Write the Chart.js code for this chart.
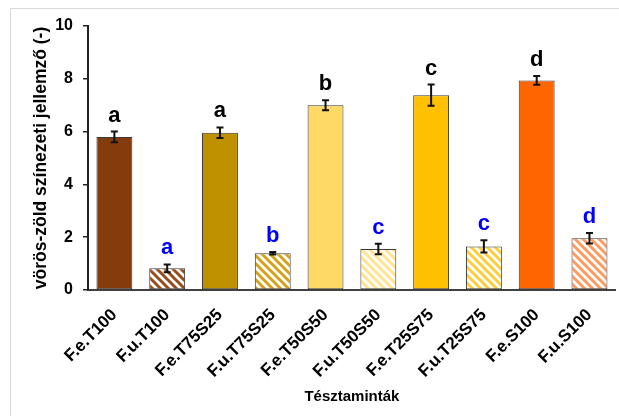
<!DOCTYPE html>
<html>
<head>
<meta charset="utf-8">
<script src="https://cdn.jsdelivr.net/npm/chart.js@4/dist/chart.umd.min.js"></script>
<style>
  html, body { margin: 0; padding: 0; background: #ffffff; }
  #wrap { width: 619px; height: 416px; }
</style>
</head>
<body>
<div id="wrap"><canvas id="c" width="619" height="416"></canvas></div>
<script>
// Minták és mért értékek
const categories = ['F.e.T100', 'F.u.T100', 'F.e.T75S25', 'F.u.T75S25', 'F.e.T50S50',
                    'F.u.T50S50', 'F.e.T25S75', 'F.u.T25S75', 'F.e.S100', 'F.u.S100'];
const values = [5.80, 0.82, 5.96, 1.39, 7.00, 1.55, 7.38, 1.65, 7.94, 1.96];
const errors = [0.20, 0.15, 0.20, 0.05, 0.19, 0.20, 0.40, 0.23, 0.17, 0.20];
const letters = ['a', 'a', 'a', 'b', 'b', 'c', 'c', 'c', 'd', 'd'];
const hatched = [false, true, false, true, false, true, false, true, false, true];
const yTicks = [0, 2, 4, 6, 8, 10];

// Kitöltési színek
const fillColors = ['#843C0C', '#9A4B1C', '#BF9000', '#D4A21A', '#FFD966',
                    '#FFE38E', '#FFC000', '#FFCC3A', '#FF6600', '#FF9A5C'];

const FONT = '"Liberation Sans", Arial, sans-serif';

// Ferde csíkos minta ("\" irányú) a hatched oszlopokhoz
function stripePattern(color) {
  const size = 8;
  const c = document.createElement('canvas');
  c.width = size; c.height = size;
  const g = c.getContext('2d');
  g.fillStyle = '#ffffff';
  g.fillRect(0, 0, size, size);
  g.strokeStyle = color;
  g.lineWidth = 3;
  g.lineCap = 'square';
  [-size, 0, size].forEach(dx => {
    g.beginPath();
    g.moveTo(dx - 1, -1);
    g.lineTo(dx + size + 1, size + 1);
    g.stroke();
  });
  return g.createPattern(c, 'repeat');
}

const ctx = document.getElementById('c').getContext('2d');
const backgrounds = fillColors.map((col, i) => hatched[i] ? stripePattern(col) : col);

// Keret a diagram körül
const framePlugin = {
  id: 'frame',
  beforeDraw(chart) {
    const g = chart.ctx;
    g.save();
    g.fillStyle = '#ffffff';
    g.fillRect(0, 0, chart.width, chart.height);
    g.strokeStyle = '#d9d9d9';
    g.lineWidth = 1;
    g.beginPath();
    g.moveTo(10.5, chart.height);
    g.lineTo(10.5, 8.5);
    g.lineTo(chart.width, 8.5);
    g.stroke();
    g.restore();
  }
};

// Hibasávok és szignifikancia-betűk
const errorPlugin = {
  id: 'errorBars',
  afterDatasetsDraw(chart) {
    const g = chart.ctx;
    const y = chart.scales.y;
    const meta = chart.getDatasetMeta(0);
    g.save();
    meta.data.forEach((bar, i) => {
      const x = bar.x;
      const lo = y.getPixelForValue(values[i] - errors[i]);
      const hi = y.getPixelForValue(values[i] + errors[i]);
      g.strokeStyle = '#111111';
      g.lineWidth = 2;
      g.beginPath();
      g.moveTo(x, lo); g.lineTo(x, hi);
      g.moveTo(x - 3.5, lo); g.lineTo(x + 3.5, lo);
      g.moveTo(x - 3.5, hi); g.lineTo(x + 3.5, hi);
      g.stroke();

      g.font = 'bold 22px ' + FONT;
      g.textAlign = 'center';
      g.textBaseline = 'alphabetic';
      g.fillStyle = hatched[i] ? '#0000FF' : '#000000';
      g.fillText(letters[i], x, hi - 10);
    });
    g.restore();
  }
};

new Chart(ctx, {
  type: 'bar',
  data: {
    labels: categories,
    datasets: [{
      data: values,
      backgroundColor: backgrounds,
      borderColor: '#3a3a3a',
      borderWidth: 1,
      borderSkipped: false,
      barPercentage: 1,
      categoryPercentage: 0.68
    }]
  },
  options: {
    responsive: false,
    animation: false,
    devicePixelRatio: 1,
    layout: { padding: { left: 0, right: 2, top: 26, bottom: 0 } },
    plugins: {
      legend: { display: false },
      tooltip: { enabled: false }
    },
    scales: {
      x: {
        grid: { display: false, drawTicks: false },
        border: { display: true, color: '#404040', width: 2 },
        ticks: {
          color: '#000000',
          font: { family: FONT, size: 17, weight: 'bold' },
          minRotation: 45,
          maxRotation: 45,
          padding: 15,
          autoSkip: false
        },
        title: {
          display: true,
          text: 'Tésztaminták',
          color: '#000000',
          font: { family: FONT, size: 15, weight: 'bold' },
          padding: { top: 0, bottom: 10 }
        },
        afterFit(scale) { scale.height = 126; }
      },
      y: {
        min: 0,
        max: 10,
        afterBuildTicks(scale) { scale.ticks = yTicks.map(v => ({ value: v })); },
        grid: {
          display: true,
          drawOnChartArea: false,
          drawTicks: true,
          tickLength: 5,
          color: '#222222',
          lineWidth: 1.5
        },
        border: { display: true, color: '#222222', width: 2 },
        ticks: {
          color: '#000000',
          font: { family: FONT, size: 16, weight: 'bold' },
          padding: 10
        },
        title: {
          display: true,
          text: 'vörös-zöld színezeti jellemző (-)',
          color: '#000000',
          font: { family: FONT, size: 17.5, weight: 'bold' },
          padding: { top: 31, bottom: 0 }
        },
        afterFit(scale) { scale.width = 88; }
      }
    }
  },
  plugins: [framePlugin, errorPlugin]
});
</script>
</body>
</html>
